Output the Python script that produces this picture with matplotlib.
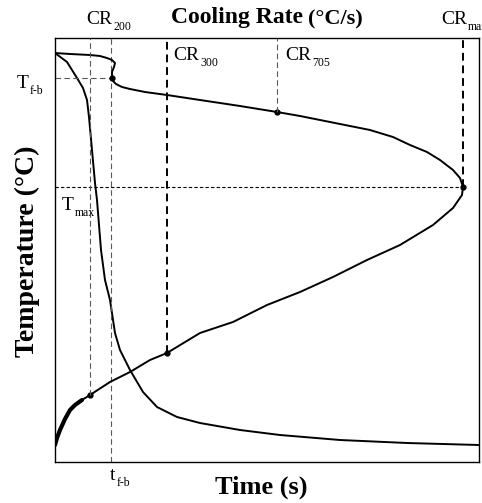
import matplotlib
matplotlib.use("Agg")
import matplotlib.pyplot as plt

# Schematic units: time / cooling-rate on x (0..424), temperature on y (0..424)
# cooling curve T(t)
t_time = [0, 12, 22, 28, 32, 34, 37, 40, 42, 46, 50, 55, 60, 65, 75, 88, 102,
          122, 145, 185, 225, 285, 352, 424]
T_time = [409, 400, 384, 374, 362, 345, 312, 279, 262, 212, 182, 162, 129, 112,
          92, 70, 55, 45, 39, 32, 27, 22, 19, 17]

# cooling-rate curve T(CR)
cr_rate = [0, 15, 35, 45, 52, 57, 60, 59, 57, 57, 58, 61, 67, 75, 90, 112, 145,
           185, 222, 245, 285, 315, 338, 355, 372, 385, 398, 405, 408,
           407, 398, 378, 345, 312, 278, 245, 212, 178, 145, 112, 95, 75, 55,
           35, 27, 20, 15, 10, 5, 2, 0]
T_rate = [409, 408, 407, 406, 404, 402, 399, 395, 390, 384, 381, 378, 375, 373,
          370, 367, 362, 356, 350, 346, 338, 332, 325, 317, 310, 302, 292, 284,
          275, 267, 254, 237, 217, 202, 185, 170, 157, 140, 129, 109, 102, 90,
          80, 67, 62, 57, 52, 43, 32, 24, 17]
# dense-data stretch at start of the rate curve
cr_thick = [0, 2, 5, 10, 15, 20, 27]
T_thick = [17, 24, 32, 43, 52, 57, 62]

# marked points on the cooling-rate curve: CR200, CR300, CR705, CRmax, f-b
cr_pts = [35, 112, 222, 408, 57]
T_pts = [67, 109, 350, 275, 384]

cr200, cr300, cr705, crmax = 35, 112, 222, 408
t_fb = 56
T_fb = 384
T_max = 275

plt.rcParams["font.family"] = "Liberation Serif"

fig = plt.figure(figsize=(4.82, 5.03), dpi=100)
ax = fig.add_axes([55 / 482, 1 - 462 / 503, 424 / 482, 424 / 503])
ax.set_xlim(0, 424)
ax.set_ylim(0, 424)
ax.set_xticks([])
ax.set_yticks([])
for s in ax.spines.values():
    s.set_linewidth(1.0)
    s.set_color("0.25")

ax2 = ax.twiny()
ax2.set_xlim(0, 424)
ax2.set_xticks([])

ax.plot(t_time, T_time, color="black", lw=1.4)
ax2.plot(cr_rate, T_rate, color="black", lw=1.4)
ax2.plot(cr_thick, T_thick, color="black", lw=3.0, solid_capstyle="round")
ax2.plot(cr_pts, T_pts, "o", color="black", ms=3.5)

thin = dict(color="0.35", lw=0.8, dashes=(5, 3))
bold = dict(color="black", lw=1.4, dashes=(4, 2.5))
ax2.plot([cr200, cr200], [67, 424], **thin)
ax2.plot([cr705, cr705], [350, 424], **thin)
ax2.plot([cr300, cr300], [109, 424], **bold)
ax2.plot([crmax, crmax], [T_max, 424], **bold)
ax.plot([t_fb, t_fb], [0, 424], **thin)
ax.plot([0, t_fb], [T_fb, T_fb], **thin)
ax.plot([0, crmax], [T_max, T_max], color="black", lw=0.8, dashes=(3, 2))


def px(x, y):
    return x / 482, 1 - y / 503


def sub_label(x, y, main, sub, size=14, subsize=8.5):
    t = fig.text(*px(x, y), main, fontsize=size, ha="left", va="center")
    bb = t.get_window_extent(fig.canvas.get_renderer())
    fig.text(*px(x + bb.width + 1, y + 8), sub, fontsize=subsize,
             ha="left", va="center")


# axis titles
fig.text(*px(261, 487), "Time (s)", fontsize=19, fontweight="bold",
         ha="center", va="center")
fig.text(*px(27, 251), "Temperature (\u00b0C)", fontsize=20, fontweight="bold",
         ha="center", va="center", rotation=90)
fig.text(*px(237, 18), "Cooling Rate", fontsize=17, fontweight="bold",
         ha="center", va="center")
fig.text(*px(308, 19), "(\u00b0C/s)", fontsize=16, fontweight="bold",
         ha="left", va="center")

sub_label(86, 19, "CR", "200")
sub_label(173, 55, "CR", "300")
sub_label(285, 55, "CR", "705")
sub_label(441, 19, "CR", "max")
sub_label(17, 83, "T", "f-b")
sub_label(62, 205, "T", "max")
sub_label(110, 475, "t", "f-b")

fig.savefig("out.png", dpi=100)
